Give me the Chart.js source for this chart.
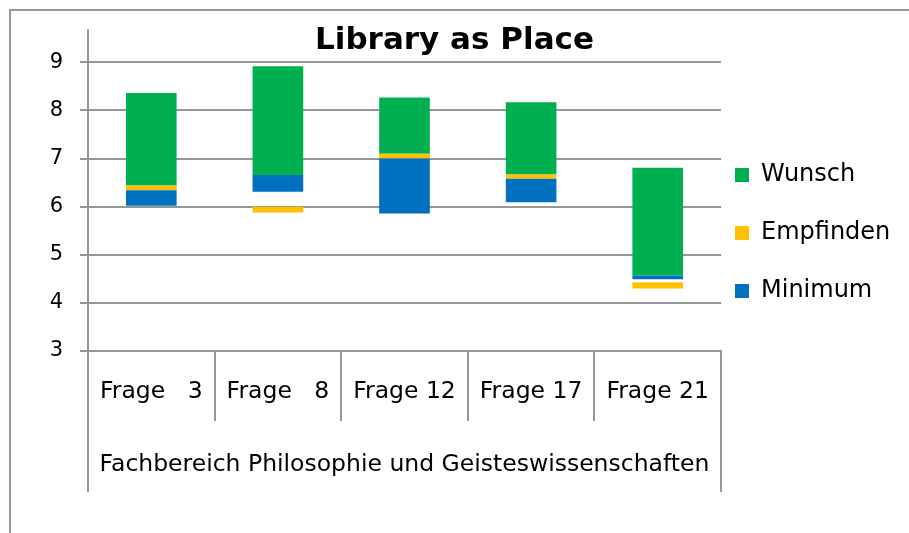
<!DOCTYPE html>
<html>
<head>
<meta charset="utf-8">
<script src="https://cdn.jsdelivr.net/npm/chart.js@4"></script>
<style>
  html, body { margin: 0; padding: 0; background: #fff; }
  #wrap { width: 909px; height: 533px; position: relative; }
</style>
</head>
<body>
<div id="wrap"><canvas id="chart" width="909" height="533"></canvas></div>
<script>
const categories = ['Frage   3', 'Frage   8', 'Frage 12', 'Frage 17', 'Frage 21'];
const groupLabel = 'Fachbereich Philosophie und Geisteswissenschaften';

// floating bars: [low, high] per category
const minimumLow = [6.02, 6.31, 5.86, 6.09, 4.49];
const minimumHigh = [6.34, 6.66, 7.00, 6.58, 4.57];
const empfindenLow = [6.34, 5.88, 7.00, 6.58, 4.30];
const empfindenHigh = [6.44, 6.00, 7.10, 6.67, 4.43];
const wunschLow = [6.44, 6.66, 7.10, 6.67, 4.57];
const wunschHigh = [8.36, 8.92, 8.27, 8.17, 6.81];

const yMin = 3;
const yMax = 9.68;

const FONT = "'DejaVu Sans', sans-serif";
const GRID = '#969696';

const ranges = (lo, hi) => lo.map((v, i) => [v, hi[i]]);

// outer frame + long edge lines of the category box
const framePlugin = {
  id: 'frame',
  beforeDraw(chart) {
    const { ctx, width, height } = chart;
    ctx.save();
    ctx.fillStyle = '#fff';
    ctx.fillRect(0, 0, width, height);
    ctx.strokeStyle = GRID;
    ctx.lineWidth = 2;
    ctx.beginPath();
    ctx.moveTo(10, height);
    ctx.lineTo(10, 10);
    ctx.lineTo(width, 10);
    ctx.stroke();
    ctx.restore();
  },
  afterDraw(chart) {
    const { ctx, chartArea } = chart;
    const x = chart.scales.x;
    ctx.save();
    ctx.strokeStyle = GRID;
    ctx.lineWidth = 2;
    ctx.beginPath();
    [chartArea.left, chartArea.right].forEach(px => {
      ctx.moveTo(px, chartArea.bottom);
      ctx.lineTo(px, x.bottom);
    });
    ctx.stroke();
    ctx.restore();
  },
};

// nudge the legend block to sit like the original
const legendShift = {
  id: 'legendShift',
  afterLayout(chart) {
    const lg = chart.legend;
    lg.left -= 20; lg.right -= 20;
    lg.top -= 26; lg.bottom -= 26;
  },
};

new Chart(document.getElementById('chart').getContext('2d'), {
  type: 'bar',
  data: {
    labels: categories,
    datasets: [
      { label: 'Minimum', data: ranges(minimumLow, minimumHigh), backgroundColor: '#0070C0' },
      { label: 'Empfinden', data: ranges(empfindenLow, empfindenHigh), backgroundColor: '#FFC000' },
      { label: 'Wunsch', data: ranges(wunschLow, wunschHigh), backgroundColor: '#00B050' },
    ],
  },
  options: {
    responsive: false,
    animation: false,
    events: [],
    datasets: {
      bar: {
        grouped: false,
        barPercentage: 0.4,
        categoryPercentage: 1,
        borderWidth: 0,
        borderSkipped: false,
      },
    },
    layout: { padding: { left: 0, top: 26, right: 0, bottom: 41 } },
    plugins: {
      title: {
        display: true,
        text: 'Library as Place',
        color: '#000',
        font: { family: FONT, size: 31, weight: 'bold' },
        padding: { top: -7, bottom: -30 },
      },
      legend: {
        position: 'right',
        reverse: true,
        maxWidth: 188,
        labels: {
          color: '#000',
          font: { family: FONT, size: 24 },
          boxWidth: 14,
          boxHeight: 14,
          padding: 34,
        },
      },
      tooltip: { enabled: false },
    },
    scales: {
      x: {
        afterFit: s => { s.height = 141; },
        grid: {
          offset: true,
          drawOnChartArea: false,
          tickLength: 70,
          color: GRID,
          lineWidth: 2,
        },
        border: { display: true, color: GRID, width: 2 },
        ticks: {
          color: '#000',
          font: { family: FONT, size: 23.5 },
          padding: -43,
          maxRotation: 0,
          autoSkip: false,
        },
        title: {
          display: true,
          text: groupLabel,
          color: '#000',
          font: { family: FONT, size: 23.5 },
          padding: { top: 0, bottom: 13 },
        },
      },
      y: {
        min: yMin,
        max: yMax,
        afterFit: s => { s.width = 88; },
        afterBuildTicks: s => { s.ticks = s.ticks.filter(t => Number.isInteger(t.value)); },
        grid: { color: GRID, lineWidth: 2, tickLength: 8 },
        border: { display: true, color: GRID, width: 2 },
        ticks: {
          stepSize: 1,
          color: '#000',
          font: { family: FONT, size: 21 },
          padding: 17,
        },
      },
    },
  },
  plugins: [framePlugin, legendShift],
});
</script>
</body>
</html>
